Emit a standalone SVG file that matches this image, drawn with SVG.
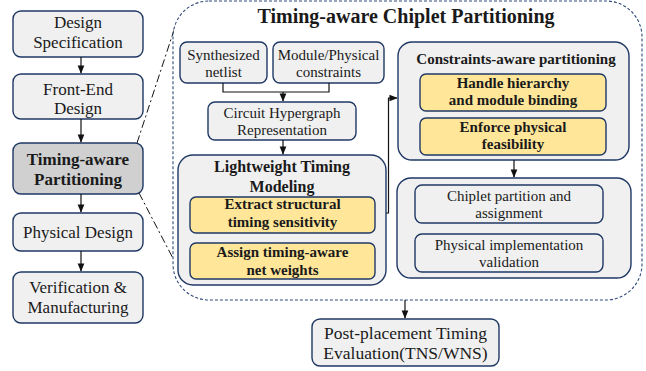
<svg xmlns="http://www.w3.org/2000/svg" width="646" height="371" viewBox="0 0 646 371">
  <style>
    .box { fill: #f0f0f0; stroke: #1f3864; stroke-width: 1.4; }
    .hl { fill: #d0d0d0; stroke: #1f3864; stroke-width: 1.4; }
    .yel { fill: #ffe699; stroke: #1f3864; stroke-width: 1.4; }
    .grp { fill: #f0f0f0; stroke: #1f3864; stroke-width: 1.4; }
    .frame { fill: #ffffff; stroke: #2f4a7a; stroke-width: 1.1; stroke-dasharray: 3 2; }
    .t { font-family: "Liberation Serif", "Times New Roman", serif; fill: #1a1a1a; text-anchor: middle; }
    .b { font-weight: bold; }
    .ln { fill: none; stroke: #111; stroke-width: 1.2; }
    .dd { fill: none; stroke: #111; stroke-width: 1; stroke-dasharray: 8 3 2 3; }
  </style>
  <defs>
    <marker id="ah" viewBox="0 0 10 10" refX="9" refY="5" markerWidth="7" markerHeight="7" orient="auto">
      <path d="M0,1 L10,5 L0,9 z" fill="#111"/>
    </marker>
  </defs>

  <!-- zoom-in guide lines -->
  <g id="guides">
    <line class="dd" x1="137" y1="143" x2="176" y2="24"/>
    <line class="dd" x1="139" y1="193" x2="178" y2="268"/>
  </g>

  <!-- dashed frame of the expanded step -->
  <g id="frame">
    <rect class="frame" x="173" y="1" width="469" height="299" rx="36"/>
    <text class="t b" x="406" y="23" font-size="20">Timing-aware Chiplet Partitioning</text>
  </g>

  <!-- flow column -->
  <g id="spec">
    <rect class="box" x="13" y="11" width="130" height="46" rx="8"/>
    <text class="t" x="78" y="28" font-size="17">Design</text>
    <text class="t" x="78" y="48" font-size="17">Specification</text>
  </g>
  <g id="frontend">
    <rect class="box" x="13" y="74" width="130" height="45" rx="8"/>
    <text class="t" x="78" y="95" font-size="17">Front-End</text>
    <text class="t" x="78" y="114" font-size="17">Design</text>
  </g>
  <g id="partitioning">
    <rect class="hl" x="13" y="143" width="130" height="51" rx="8"/>
    <text class="t b" x="78" y="165" font-size="17">Timing-aware</text>
    <text class="t b" x="78" y="185" font-size="17">Partitioning</text>
  </g>
  <g id="physical">
    <rect class="box" x="13" y="213" width="130" height="38" rx="8"/>
    <text class="t" x="78" y="238" font-size="17">Physical Design</text>
  </g>
  <g id="verification">
    <rect class="box" x="13" y="272" width="130" height="51" rx="8"/>
    <text class="t" x="78" y="293" font-size="17">Verification &amp;</text>
    <text class="t" x="78" y="313" font-size="17">Manufacturing</text>
  </g>

  <!-- inputs -->
  <g id="netlist">
    <rect class="box" x="180" y="42" width="87" height="41" rx="7"/>
    <text class="t" x="223.5" y="60" font-size="15">Synthesized</text>
    <text class="t" x="223.5" y="77" font-size="15">netlist</text>
  </g>
  <g id="constraints">
    <rect class="box" x="273" y="42" width="111" height="41" rx="7"/>
    <text class="t" x="328.5" y="60" font-size="15">Module/Physical</text>
    <text class="t" x="328.5" y="77" font-size="15">constraints</text>
  </g>
  <g id="hypergraph">
    <rect class="box" x="208" y="102" width="148" height="38" rx="7"/>
    <text class="t" x="282" y="118" font-size="15">Circuit Hypergraph</text>
    <text class="t" x="282" y="135" font-size="15">Representation</text>
  </g>

  <!-- timing modeling group -->
  <g id="timing-model">
    <rect class="grp" x="178" y="155" width="208" height="130" rx="15"/>
    <text class="t b" x="282" y="172" font-size="16">Lightweight Timing</text>
    <text class="t b" x="282" y="192" font-size="16">Modeling</text>
  </g>
  <g id="extract">
    <rect class="yel" x="190" y="197" width="185" height="36" rx="6"/>
    <text class="t b" x="282.5" y="209" font-size="15">Extract structural</text>
    <text class="t b" x="282.5" y="227" font-size="15">timing sensitivity</text>
  </g>
  <g id="weights">
    <rect class="yel" x="190" y="243" width="185" height="36" rx="6"/>
    <text class="t b" x="282.5" y="257" font-size="15">Assign timing-aware</text>
    <text class="t b" x="282.5" y="275" font-size="15">net weights</text>
  </g>

  <!-- constraints-aware group -->
  <g id="constraint-part">
    <rect class="grp" x="398" y="42" width="231" height="118" rx="14"/>
    <text class="t b" x="516" y="64" font-size="15">Constraints-aware partitioning</text>
  </g>
  <g id="hierarchy">
    <rect class="yel" x="420" y="74" width="186" height="37" rx="6"/>
    <text class="t b" x="513" y="88" font-size="15">Handle hierarchy</text>
    <text class="t b" x="513" y="105" font-size="15">and module binding</text>
  </g>
  <g id="feasibility">
    <rect class="yel" x="420" y="118" width="186" height="37" rx="6"/>
    <text class="t b" x="513" y="132" font-size="15">Enforce physical</text>
    <text class="t b" x="513" y="149" font-size="15">feasibility</text>
  </g>

  <!-- outputs group -->
  <g id="result-group">
    <rect class="grp" x="397" y="178" width="234" height="100" rx="14"/>
  </g>
  <g id="assignment">
    <rect class="box" x="415" y="185" width="188" height="38" rx="7"/>
    <text class="t" x="509" y="201" font-size="15">Chiplet partition and</text>
    <text class="t" x="509" y="218" font-size="15">assignment</text>
  </g>
  <g id="validation">
    <rect class="box" x="415" y="234" width="188" height="38" rx="7"/>
    <text class="t" x="509" y="250" font-size="15">Physical implementation</text>
    <text class="t" x="509" y="267" font-size="15">validation</text>
  </g>

  <g id="post-eval">
    <rect class="box" x="312" y="319" width="187" height="47" rx="8"/>
    <text class="t" x="405.5" y="339" font-size="17.5">Post-placement Timing</text>
    <text class="t" x="405.5" y="359" font-size="17.5">Evaluation(TNS/WNS)</text>
  </g>

  <!-- connectors -->
  <g id="connectors">
    <line class="ln" x1="81" y1="57" x2="81" y2="73" marker-end="url(#ah)"/>
    <line class="ln" x1="81" y1="119" x2="81" y2="142" marker-end="url(#ah)"/>
    <line class="ln" x1="81" y1="194" x2="81" y2="212" marker-end="url(#ah)"/>
    <line class="ln" x1="81" y1="251" x2="81" y2="271" marker-end="url(#ah)"/>
    <polyline class="ln" points="223,83 223,92 329,92 329,83"/>
    <line class="ln" x1="283" y1="92" x2="283" y2="101" marker-end="url(#ah)"/>
    <line class="ln" x1="283" y1="140" x2="283" y2="154" marker-end="url(#ah)"/>
    <polyline class="ln" points="386,213 388.5,213 388.5,98 397,98" marker-end="url(#ah)"/>
    <line class="ln" x1="514" y1="160" x2="514" y2="177" marker-end="url(#ah)"/>
    <line class="ln" x1="405" y1="300" x2="405" y2="318" marker-end="url(#ah)"/>
  </g>
</svg>
